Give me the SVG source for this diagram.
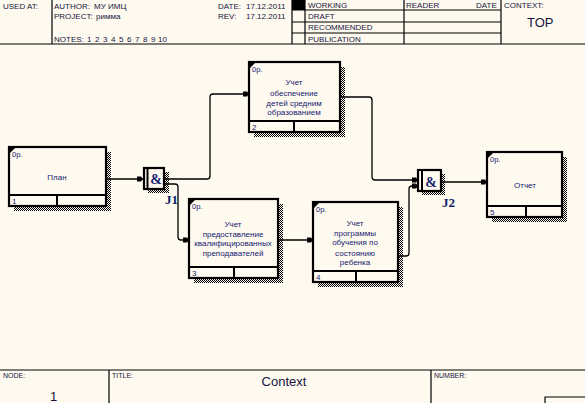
<svg xmlns="http://www.w3.org/2000/svg" width="585" height="403" viewBox="0 0 585 403">
<defs>
<pattern id="hatch" width="2" height="2" patternUnits="userSpaceOnUse"><rect width="1" height="1" fill="#000"/><rect x="1" y="1" width="1" height="1" fill="#000"/></pattern>
<marker id="arr" markerWidth="7" markerHeight="6" refX="6" refY="3" orient="auto" markerUnits="userSpaceOnUse"><path d="M0,0.5 L4,0.5 L6,3 L4,5.5 L0,5.5 z" fill="#000"/></marker>
</defs>
<style>
.hd{font-family:"Liberation Sans",Arial,sans-serif;font-size:8px;fill:#14143c}
.sm{font-family:"Liberation Sans",Arial,sans-serif;font-size:7px;fill:#14143c}
.ln{stroke:#000;stroke-width:1.2;fill:none}
.box{fill:#FFFAF0;stroke:#000;stroke-width:2.2}
.dv{stroke:#000;stroke-width:2;fill:none}
.sh{fill:url(#hatch)}
.lbl{font-family:"Liberation Sans",Arial,sans-serif;font-size:8px;fill:#14206e;text-anchor:middle}
.op{font-family:"Liberation Sans",Arial,sans-serif;font-size:7.5px;fill:#14206e}
.num{font-family:"Liberation Sans",Arial,sans-serif;font-size:8px;fill:#14206e}
.cm{fill:#000}
.cn{stroke:#000;stroke-width:1.3;fill:none;marker-end:url(#arr)}
.jl{font-family:"Liberation Serif","Times New Roman",serif;font-weight:bold;font-size:13px;fill:#0b1f6b}
.amp{font-family:"Liberation Serif","Times New Roman",serif;font-weight:bold;font-size:14px;fill:#14206e;text-anchor:middle}
</style>
<rect width="585" height="403" fill="#FFFAF0"/>

<g id="header">
<line class="ln" x1="0" y1="44" x2="585" y2="44"/>
<line class="ln" x1="52" y1="0" x2="52" y2="44"/>
<line class="ln" x1="292" y1="0" x2="292" y2="44"/>
<line class="ln" x1="305" y1="0" x2="305" y2="44"/>
<line class="ln" x1="404" y1="0" x2="404" y2="44"/>
<line class="ln" x1="501" y1="0" x2="501" y2="44"/>
<line class="ln" x1="292" y1="10" x2="501" y2="10"/>
<line class="ln" x1="292" y1="22" x2="501" y2="22"/>
<line class="ln" x1="292" y1="33" x2="501" y2="33"/>
<rect x="292" y="0" width="13" height="10" fill="#000"/>
<text class="hd" x="3" y="9">USED AT:</text>
<text class="hd" x="54" y="9">AUTHOR:</text>
<text class="hd" x="94" y="9">МУ ИМЦ</text>
<text class="hd" x="54" y="19">PROJECT:</text>
<text class="hd" x="96" y="19">римма</text>
<text class="hd" x="54" y="42">NOTES:</text>
<text class="hd" x="87" y="42">1</text>
<text class="hd" x="95" y="42">2</text>
<text class="hd" x="103" y="42">3</text>
<text class="hd" x="111" y="42">4</text>
<text class="hd" x="119" y="42">5</text>
<text class="hd" x="127" y="42">6</text>
<text class="hd" x="135" y="42">7</text>
<text class="hd" x="143" y="42">8</text>
<text class="hd" x="151" y="42">9</text>
<text class="hd" x="158" y="42">10</text>
<text class="hd" x="218" y="9">DATE:</text>
<text class="hd" x="246" y="9">17.12.2011</text>
<text class="hd" x="218" y="19">REV:</text>
<text class="hd" x="246" y="19">17.12.2011</text>
<text class="hd" x="308" y="8">WORKING</text>
<text class="hd" x="308" y="19">DRAFT</text>
<text class="hd" x="308" y="30">RECOMMENDED</text>
<text class="hd" x="308" y="42">PUBLICATION</text>
<text class="hd" x="406" y="8">READER</text>
<text class="hd" x="476" y="8">DATE</text>
<text class="hd" x="504" y="8">CONTEXT:</text>
<text x="527" y="27" font-family="Liberation Sans,Arial,sans-serif" font-size="13" fill="#14143c">TOP</text>
</g>

<g id="footer">
<line class="ln" x1="0" y1="370" x2="585" y2="370"/>
<line class="ln" x1="109" y1="370" x2="109" y2="403"/>
<line class="ln" x1="431" y1="370" x2="431" y2="403"/>
<path class="ln" d="M545,403 V397 H585"/>
<text class="sm" x="3" y="378">NODE:</text>
<text x="50" y="401" font-family="Liberation Sans,Arial,sans-serif" font-size="13" fill="#14143c">1</text>
<text class="sm" x="112" y="378">TITLE:</text>
<text x="284" y="386" font-family="Liberation Sans,Arial,sans-serif" font-size="13" fill="#14143c" text-anchor="middle">Context</text>
<text class="sm" x="434" y="378">NUMBER:</text>
</g>

<g id="connectors">
<path class="cn" d="M106,179 H143"/>
<path class="cn" d="M164,179 H207 Q210,179 210,176 V97 Q210,94 213,94 H249"/>
<path class="cn" d="M164,184 H175 Q178,184 178,187 V237 Q178,240 181,240 H189"/>
<path class="cn" d="M340,97 H369 Q372,97 372,100 V177 Q372,180 375,180 H418"/>
<path class="cn" d="M398,256 H406 Q409,256 409,253 V189 Q409,186 412,186 H418"/>
<path class="cn" d="M441,182 H487"/>
<path class="cn" d="M278,240 H313"/>
</g>

<g id="node1">
<rect class="sh" x="14" y="152" width="97" height="59"/>
<rect class="box" x="9" y="147" width="97" height="59"/>
<line class="dv" x1="9" y1="195" x2="106" y2="195"/>
<line class="dv" x1="57" y1="195" x2="57" y2="206"/>
<polygon class="cm" points="10,148 15,148 10,153"/>
<text class="op" x="12" y="157">0р.</text>
<text class="lbl" x="57" y="180">План</text>
<text class="num" x="12" y="204">1</text>
</g>

<g id="node2">
<rect class="sh" x="254" y="67" width="91" height="70"/>
<rect class="box" x="249" y="62" width="91" height="70"/>
<line class="dv" x1="249" y1="121" x2="340" y2="121"/>
<line class="dv" x1="294" y1="121" x2="294" y2="132"/>
<polygon class="cm" points="250,63 255,63 250,68"/>
<text class="op" x="252" y="72">0р.</text>
<text class="lbl" x="294" y="85">Учет</text>
<text class="lbl" x="294" y="96">обеспечение</text>
<text class="lbl" x="294" y="106">детей средним</text>
<text class="lbl" x="294" y="115">образованием</text>
<text class="num" x="252" y="130">2</text>
</g>

<g id="node3">
<rect class="sh" x="194" y="204" width="89" height="79"/>
<rect class="box" x="189" y="199" width="89" height="79"/>
<line class="dv" x1="189" y1="267" x2="278" y2="267"/>
<line class="dv" x1="234" y1="267" x2="234" y2="278"/>
<polygon class="cm" points="190,200 195,200 190,205"/>
<text class="op" x="192" y="209">0р.</text>
<text class="lbl" x="233" y="227">Учет</text>
<text class="lbl" x="233" y="237">предоставление</text>
<text class="lbl" x="233" y="246">квалифицированных</text>
<text class="lbl" x="233" y="256">преподавателей</text>
<text class="num" x="192" y="276">3</text>
</g>

<g id="node4">
<rect class="sh" x="318" y="207" width="85" height="80"/>
<rect class="box" x="313" y="202" width="85" height="80"/>
<line class="dv" x1="313" y1="271" x2="398" y2="271"/>
<line class="dv" x1="356" y1="271" x2="356" y2="282"/>
<polygon class="cm" points="314,203 319,203 314,208"/>
<text class="op" x="316" y="212">0р.</text>
<text class="lbl" x="355" y="226">Учет</text>
<text class="lbl" x="355" y="236">программы</text>
<text class="lbl" x="355" y="245">обучения по</text>
<text class="lbl" x="355" y="256">состоянию</text>
<text class="lbl" x="355" y="265">ребенка</text>
<text class="num" x="316" y="280">4</text>
</g>

<g id="node5">
<rect class="sh" x="492" y="157" width="75" height="65"/>
<rect class="box" x="487" y="152" width="75" height="65"/>
<line class="dv" x1="487" y1="206" x2="562" y2="206"/>
<line class="dv" x1="526" y1="206" x2="526" y2="217"/>
<polygon class="cm" points="488,153 493,153 488,158"/>
<text class="op" x="490" y="162">0р.</text>
<text class="lbl" x="525" y="188">Отчет</text>
<text class="num" x="490" y="215">5</text>
</g>

<g id="J1">
<rect class="sh" x="148" y="172" width="21" height="21"/>
<rect class="box" x="144" y="168" width="20" height="21"/>
<line class="dv" x1="147.5" y1="168" x2="147.5" y2="189"/>
<text class="amp" x="156" y="184">&amp;</text>
<text class="jl" x="165" y="204">J1</text>
</g>

<g id="J2">
<rect class="sh" x="422" y="174" width="23" height="21"/>
<rect class="box" x="418" y="170" width="23" height="21"/>
<line class="dv" x1="422" y1="170" x2="422" y2="191"/>
<text class="amp" x="431" y="187">&amp;</text>
<text class="jl" x="442" y="207">J2</text>
</g>
</svg>
